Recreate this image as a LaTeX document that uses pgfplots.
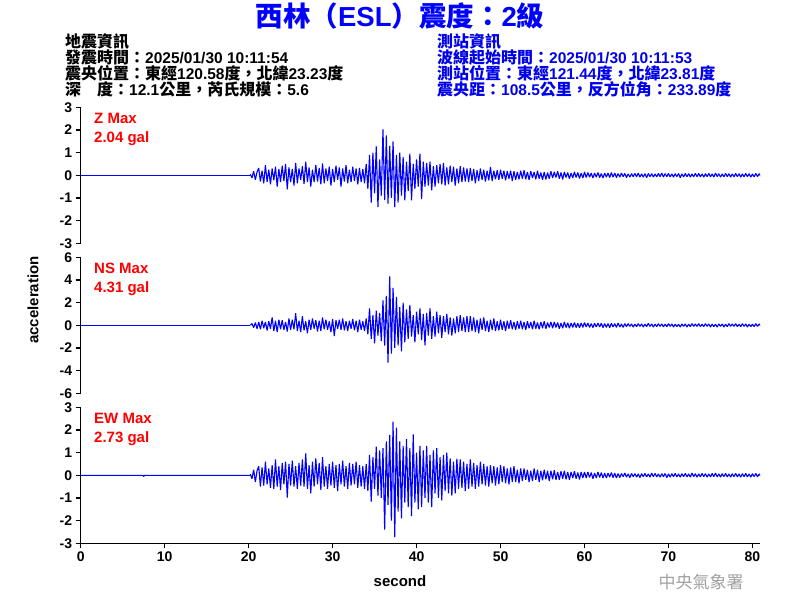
\documentclass[border=0pt]{standalone}
\usepackage{pgfplots}
\pgfplotsset{compat=1.18}
\usepackage{fontspec}
\setmainfont{Liberation Sans}
\newfontfamily\cjk{Noto Sans CJK TC}
\definecolor{wave}{RGB}{0,0,255}
\definecolor{hdr}{RGB}{0,0,235}
\definecolor{redlab}{RGB}{255,0,0}
\definecolor{wm}{RGB}{160,160,160}
\pgfplotsset{
  panel/.style={
    scale only axis, width=679.3pt, height=136pt, xmin=0, xmax=80.9,
    axis y line*=left,
    axis line style={line width=1.5pt, black},
    every tick/.style={black, line width=1.5pt},
    tick align=outside, major tick length=5pt,
    ticklabel style={font=\fontsize{14}{14}\selectfont\bfseries},
    /pgf/number format/assume math mode=true,
    clip=true,
  },
  wv/.style={wave, line width=1.1pt, line join=bevel},
}
\newcommand{\hl}{\fontsize{15.5}{16}\selectfont\bfseries}
\newcommand{\hc}[1]{{\cjk\fontsize{16}{16}\selectfont\bfseries #1}}
\begin{document}
\begin{tikzpicture}[x=1pt,y=1pt]
\path[use as bounding box] (0,0) rectangle (800,600);
% ---------- Z ----------
\begin{axis}[panel, at={(80.7pt,356.7pt)}, anchor=south west, axis x line=none,
  ymin=-3, ymax=3, ytick={-3,-2,...,3}]
\addplot[wv] coordinates {(0,0) (20.2,0)};
\addplot[wv] table[row sep=\\, x expr=20.2+0.2*\coordindex, y=y] {y\\
0.05\\-0.12\\0.18\\-0.2\\0.15\\
0.32\\-0.28\\0.2\\-0.35\\0.45\\-0.3\\0.25\\-0.4\\0.3\\-0.22\\
0.38\\-0.5\\0.28\\-0.3\\0.42\\-0.25\\0.5\\-0.62\\0.35\\-0.3\\
0.28\\-0.45\\0.55\\-0.35\\0.3\\-0.2\\0.4\\-0.38\\0.6\\-0.3\\
0.35\\-0.5\\0.25\\-0.3\\0.45\\-0.28\\0.32\\-0.4\\0.52\\-0.35\\
0.3\\-0.25\\0.38\\-0.45\\0.28\\-0.3\\0.42\\-0.2\\0.35\\-0.5\\
0.3\\-0.28\\0.45\\-0.35\\0.25\\-0.3\\0.38\\-0.25\\0.3\\-0.4\\
0.32\\-0.3\\0.28\\-0.35\\0.5\\
-0.6\\0.9\\-1.2\\1.0\\-0.8\\1.28\\-1.4\\0.7\\-0.9\\
2.03\\-1.1\\1.76\\-1.25\\1.3\\-1.0\\1.5\\-1.4\\0.9\\-1.2\\1.0\\-0.9\\0.8\\-1.1\\
0.6\\-0.7\\0.95\\-1.1\\0.5\\-0.6\\0.7\\-0.5\\0.95\\-1.05\\0.6\\-0.5\\
0.55\\-0.45\\0.6\\-0.66\\0.4\\-0.5\\0.45\\-0.35\\0.5\\-0.4\\0.55\\-0.45\\0.35\\-0.4\\0.42\\-0.3\\0.38\\-0.45\\0.3\\-0.35\\0.4\\-0.3\\0.35\\-0.28\\0.3\\
-0.3\\0.32\\-0.25\\0.28\\-0.35\\0.22\\-0.25\\0.3\\-0.2\\0.25\\-0.28\\0.2\\-0.22\\0.37\\-0.25\\0.2\\-0.18\\0.22\\-0.2\\0.25\\-0.15\\0.2\\-0.22\\0.18\\-0.15\\0.2\\-0.25\\0.18\\-0.2\\0.15\\
-0.18\\0.2\\-0.15\\0.22\\-0.18\\0.15\\-0.2\\0.18\\-0.12\\0.15\\
-0.18\\0.2\\-0.15\\0.12\\-0.2\\0.15\\-0.18\\0.12\\-0.15\\0.18\\
-0.12\\0.15\\-0.1\\0.18\\-0.15\\0.12\\-0.18\\0.15\\-0.1\\0.12\\
-0.15\\0.1\\-0.12\\0.15\\-0.1\\0.12\\-0.14\\0.1\\-0.12\\0.15\\
-0.1\\0.12\\-0.08\\0.1\\-0.12\\0.1\\-0.08\\0.12\\-0.1\\0.08\\
-0.12\\0.1\\-0.08\\0.1\\-0.1\\0.12\\-0.08\\0.1\\-0.1\\0.08\\
-0.08\\0.1\\-0.06\\0.08\\-0.1\\0.06\\-0.08\\0.07\\-0.06\\0.08\\
-0.07\\0.1\\-0.08\\0.06\\-0.08\\0.07\\-0.1\\0.08\\-0.06\\0.07\\
-0.08\\0.06\\-0.07\\0.08\\-0.06\\0.1\\-0.08\\0.07\\-0.06\\0.08\\
-0.07\\0.06\\-0.08\\0.07\\-0.06\\0.08\\-0.1\\0.06\\-0.07\\0.08\\
-0.06\\0.07\\-0.08\\0.06\\-0.07\\0.09\\-0.06\\0.08\\-0.07\\0.06\\
-0.08\\0.07\\-0.06\\0.08\\-0.07\\0.06\\-0.08\\0.1\\-0.06\\0.07\\
-0.08\\0.06\\-0.07\\0.08\\-0.06\\0.07\\-0.08\\0.06\\-0.07\\0.08\\
-0.06\\0.07\\-0.08\\0.06\\-0.07\\0.08\\-0.06\\0.07\\-0.08\\0.06\\
-0.07\\0.08\\-0.06\\0.07\\-0.05\\
};
\end{axis}
% ---------- NS ----------
\begin{axis}[panel, at={(80.7pt,206.7pt)}, anchor=south west, axis x line=none,
  ymin=-6, ymax=6, ytick={-6,-4,...,6}]
\addplot[wv] coordinates {(0,0) (20.2,0)};
\addplot[wv] table[row sep=\\, x expr=20.2+0.2*\coordindex, y=y] {y\\
0\\0.15\\-0.2\\0.25\\-0.3\\
0.3\\-0.35\\0.4\\-0.25\\0.3\\-0.45\\0.35\\-0.3\\0.7\\-0.5\\
0.4\\-0.6\\0.5\\-0.35\\0.45\\-0.4\\0.3\\-0.55\\0.6\\-0.4\\
0.5\\-0.35\\1.06\\-0.5\\0.4\\-0.6\\0.8\\-0.45\\0.35\\-0.7\\
0.5\\-0.4\\0.6\\-0.3\\0.45\\-0.55\\0.4\\-0.5\\0.7\\-0.35\\
0.5\\-0.4\\0.35\\-0.6\\0.55\\-0.94\\0.45\\-0.3\\0.5\\-0.4\\
0.6\\-0.45\\0.35\\-0.5\\0.4\\-0.3\\0.55\\-0.45\\0.4\\-0.6\\
0.5\\-0.4\\0.35\\-0.5\\0.6\\
-0.8\\1.5\\-1.2\\0.9\\-1.6\\1.3\\-0.9\\1.1\\-1.4\\
2.2\\-1.8\\2.6\\-3.3\\4.31\\-2.5\\3.3\\-2.0\\2.5\\-1.8\\1.6\\-2.3\\2.0\\-1.5\\
1.4\\-1.2\\1.8\\-1.0\\0.9\\-1.5\\1.2\\-0.8\\1.5\\-1.3\\1.0\\-1.76\\
1.1\\-0.9\\1.5\\-1.2\\0.8\\-1.0\\1.2\\-0.7\\0.9\\-1.1\\0.8\\-0.6\\1.0\\-0.8\\0.7\\-0.9\\0.6\\-0.7\\0.8\\-0.6\\0.9\\-0.5\\0.7\\-0.6\\0.8\\
-0.6\\0.8\\-0.5\\0.7\\-0.6\\0.5\\-0.7\\0.6\\-0.4\\0.7\\-0.5\\0.4\\-0.6\\0.5\\-0.4\\0.6\\-0.5\\0.35\\-0.45\\0.5\\-0.4\\0.35\\-0.5\\0.4\\-0.3\\0.45\\-0.35\\0.3\\-0.4\\0.35\\
-0.3\\0.4\\-0.35\\0.3\\-0.4\\0.35\\-0.25\\0.3\\-0.35\\0.4\\
-0.3\\0.25\\-0.35\\0.3\\-0.25\\0.35\\-0.3\\0.25\\-0.2\\0.3\\
-0.25\\0.3\\-0.2\\0.25\\-0.3\\0.2\\-0.25\\0.3\\-0.2\\0.22\\
-0.25\\0.2\\-0.18\\0.25\\-0.2\\0.18\\-0.22\\0.2\\-0.18\\0.25\\
-0.15\\0.2\\-0.18\\0.15\\-0.2\\0.18\\-0.15\\0.2\\-0.15\\0.18\\
-0.2\\0.15\\-0.18\\0.15\\-0.2\\0.18\\-0.15\\0.15\\-0.18\\0.2\\
-0.15\\0.12\\-0.18\\0.15\\-0.12\\0.15\\-0.1\\0.12\\-0.15\\0.1\\
-0.12\\0.15\\-0.1\\0.12\\-0.15\\0.1\\-0.12\\0.18\\-0.1\\0.12\\
-0.15\\0.1\\-0.12\\0.15\\-0.1\\0.12\\-0.14\\0.1\\-0.12\\0.15\\
-0.1\\0.12\\-0.15\\0.1\\-0.12\\0.1\\-0.15\\0.12\\-0.1\\0.12\\
-0.15\\0.1\\-0.12\\0.15\\-0.1\\0.12\\-0.1\\0.15\\-0.12\\0.1\\
-0.12\\0.15\\-0.1\\0.12\\-0.15\\0.1\\-0.12\\0.1\\-0.15\\0.12\\
-0.1\\0.12\\-0.15\\0.1\\-0.12\\0.15\\-0.1\\0.12\\-0.1\\0.15\\
-0.12\\0.1\\-0.12\\0.15\\-0.1\\0.12\\-0.15\\0.1\\-0.12\\0.1\\
-0.12\\0.15\\-0.1\\0.12\\-0.08\\
};
\end{axis}
% ---------- EW ----------
\begin{axis}[panel, at={(80.7pt,56.7pt)}, anchor=south west, axis x line*=bottom,
  ymin=-3, ymax=3, ytick={-3,-2,...,3}, xtick={0,10,...,80}]
\addplot[wv] coordinates {(0,0) (7.4,0) (7.5,-0.05) (7.6,0) (20.2,0)};
\addplot[wv] table[row sep=\\, x expr=20.2+0.2*\coordindex, y=y] {y\\
0.05\\-0.15\\0.25\\-0.3\\0.2\\
0.4\\-0.5\\0.35\\-0.45\\0.6\\-0.4\\0.3\\-0.55\\0.45\\-0.6\\
0.7\\-0.5\\0.4\\-0.65\\0.55\\-0.4\\0.6\\-0.98\\0.5\\-0.45\\
0.65\\-0.5\\0.4\\-0.6\\0.55\\-0.45\\0.7\\-0.5\\0.97\\-0.6\\
0.45\\-0.8\\0.6\\-0.5\\0.75\\-0.4\\0.55\\-0.65\\0.8\\-0.5\\
0.4\\-0.6\\0.5\\-0.45\\0.6\\-0.55\\0.45\\-0.7\\0.5\\-0.4\\
0.65\\-0.5\\0.4\\-0.6\\0.55\\-0.45\\0.5\\-0.4\\0.6\\-0.55\\
0.45\\-0.5\\0.4\\-0.6\\0.5\\
-0.7\\0.9\\-1.16\\0.8\\-0.6\\1.26\\-0.9\\1.1\\-1.0\\
1.2\\-2.4\\1.5\\-1.3\\1.78\\-2.0\\2.37\\-2.73\\2.1\\-1.6\\1.5\\-1.9\\1.3\\-1.2\\
1.6\\-1.4\\1.2\\-1.8\\1.8\\-1.2\\1.0\\-1.5\\1.3\\-1.4\\1.1\\-1.0\\
1.3\\-1.2\\0.9\\-1.4\\1.1\\-0.8\\1.2\\-1.0\\0.8\\-1.1\\0.9\\-0.7\\1.0\\-0.8\\0.75\\-0.9\\0.6\\-0.8\\0.73\\-0.6\\0.7\\-0.55\\0.6\\-0.7\\0.5\\
-0.6\\0.7\\-0.5\\0.55\\-0.6\\0.45\\-0.5\\0.6\\-0.4\\0.5\\-0.45\\0.4\\-0.5\\0.45\\-0.35\\0.4\\-0.45\\0.35\\-0.4\\0.45\\-0.3\\0.4\\-0.35\\0.3\\-0.4\\0.35\\-0.3\\0.4\\-0.3\\0.25\\
-0.35\\0.3\\-0.25\\0.3\\-0.2\\0.25\\-0.3\\0.2\\-0.25\\0.3\\
-0.2\\0.25\\-0.3\\0.2\\-0.22\\0.25\\-0.18\\0.2\\-0.25\\0.2\\
-0.18\\0.22\\-0.2\\0.15\\-0.2\\0.18\\-0.15\\0.2\\-0.18\\0.15\\
-0.2\\0.15\\-0.12\\0.18\\-0.15\\0.12\\-0.18\\0.15\\-0.12\\0.15\\
-0.12\\0.15\\-0.1\\0.12\\-0.15\\0.1\\-0.12\\0.15\\-0.1\\0.12\\
-0.12\\0.1\\-0.12\\0.1\\-0.08\\0.12\\-0.1\\0.1\\-0.12\\0.08\\
-0.1\\0.08\\-0.06\\0.1\\-0.08\\0.06\\-0.1\\0.08\\-0.06\\0.07\\
-0.08\\0.06\\-0.1\\0.07\\-0.06\\0.08\\-0.07\\0.06\\-0.08\\0.1\\
-0.06\\0.08\\-0.07\\0.06\\-0.08\\0.07\\-0.06\\0.08\\-0.1\\0.06\\
-0.08\\0.07\\-0.06\\0.08\\-0.07\\0.06\\-0.08\\0.07\\-0.06\\0.08\\
-0.07\\0.06\\-0.08\\0.1\\-0.06\\0.07\\-0.08\\0.06\\-0.07\\0.08\\
-0.06\\0.07\\-0.08\\0.06\\-0.07\\0.08\\-0.06\\0.1\\-0.07\\0.06\\
-0.08\\0.07\\-0.06\\0.08\\-0.07\\0.06\\-0.08\\0.07\\-0.06\\0.08\\
-0.07\\0.06\\-0.08\\0.07\\-0.06\\0.08\\-0.07\\0.06\\-0.08\\0.07\\
-0.06\\0.08\\-0.07\\0.06\\-0.05\\
};
\end{axis}
% ---------- texts ----------
\node[anchor=base, text=wave, inner sep=0] at (400,573)
  {\fontsize{27.5}{28}\selectfont\bfseries{\cjk 西林（}ESL{\cjk ）震度：}2{\cjk 級}};
\node[anchor=base west, inner sep=0] at (65,552) {\hc{地震資訊}};
\node[anchor=base west, inner sep=0] at (65,536) {\hc{發震時間：}\hl 2025/01/30 10:11:54};
\node[anchor=base west, inner sep=0] at (65,520) {\hc{震央位置：東經}\hl 120.58\hc{度，北緯}\hl 23.23\hc{度}};
\node[anchor=base west, inner sep=0] at (65,504) {\hc{深\quad 度：}\hl 12.1\hc{公里，芮氏規模：}\hl 5.6};
\begin{scope}[text=hdr]
\node[anchor=base west, inner sep=0] at (437,552) {\hc{測站資訊}};
\node[anchor=base west, inner sep=0] at (437,536) {\hc{波線起始時間：}\hl 2025/01/30 10:11:53};
\node[anchor=base west, inner sep=0] at (437,520) {\hc{測站位置：東經}\hl 121.44\hc{度，北緯}\hl 23.81\hc{度}};
\node[anchor=base west, inner sep=0] at (437,504) {\hc{震央距：}\hl 108.5\hc{公里，反方位角：}\hl 233.89\hc{度}};
\end{scope}
\begin{scope}[every node/.style={anchor=base west, inner sep=0, text=redlab, font=\fontsize{15}{15}\selectfont\bfseries}]
\node at (94,476.7) {Z Max};
\node at (94,457.5) {2.04 gal};
\node at (94,326.7) {NS Max};
\node at (94,307.5) {4.31 gal};
\node at (94,176.7) {EW Max};
\node at (94,157.5) {2.73 gal};
\end{scope}
\node[rotate=90, inner sep=0, font=\fontsize{15}{15}\selectfont\bfseries] at (33,300) {acceleration};
\node[anchor=base, inner sep=0, font=\fontsize{15}{15}\selectfont\bfseries] at (400,14) {second};
\node[inner sep=0, text=wm] at (701,17.5) {\cjk\fontsize{17}{17}\selectfont 中央氣象署};
\end{tikzpicture}
\end{document}
